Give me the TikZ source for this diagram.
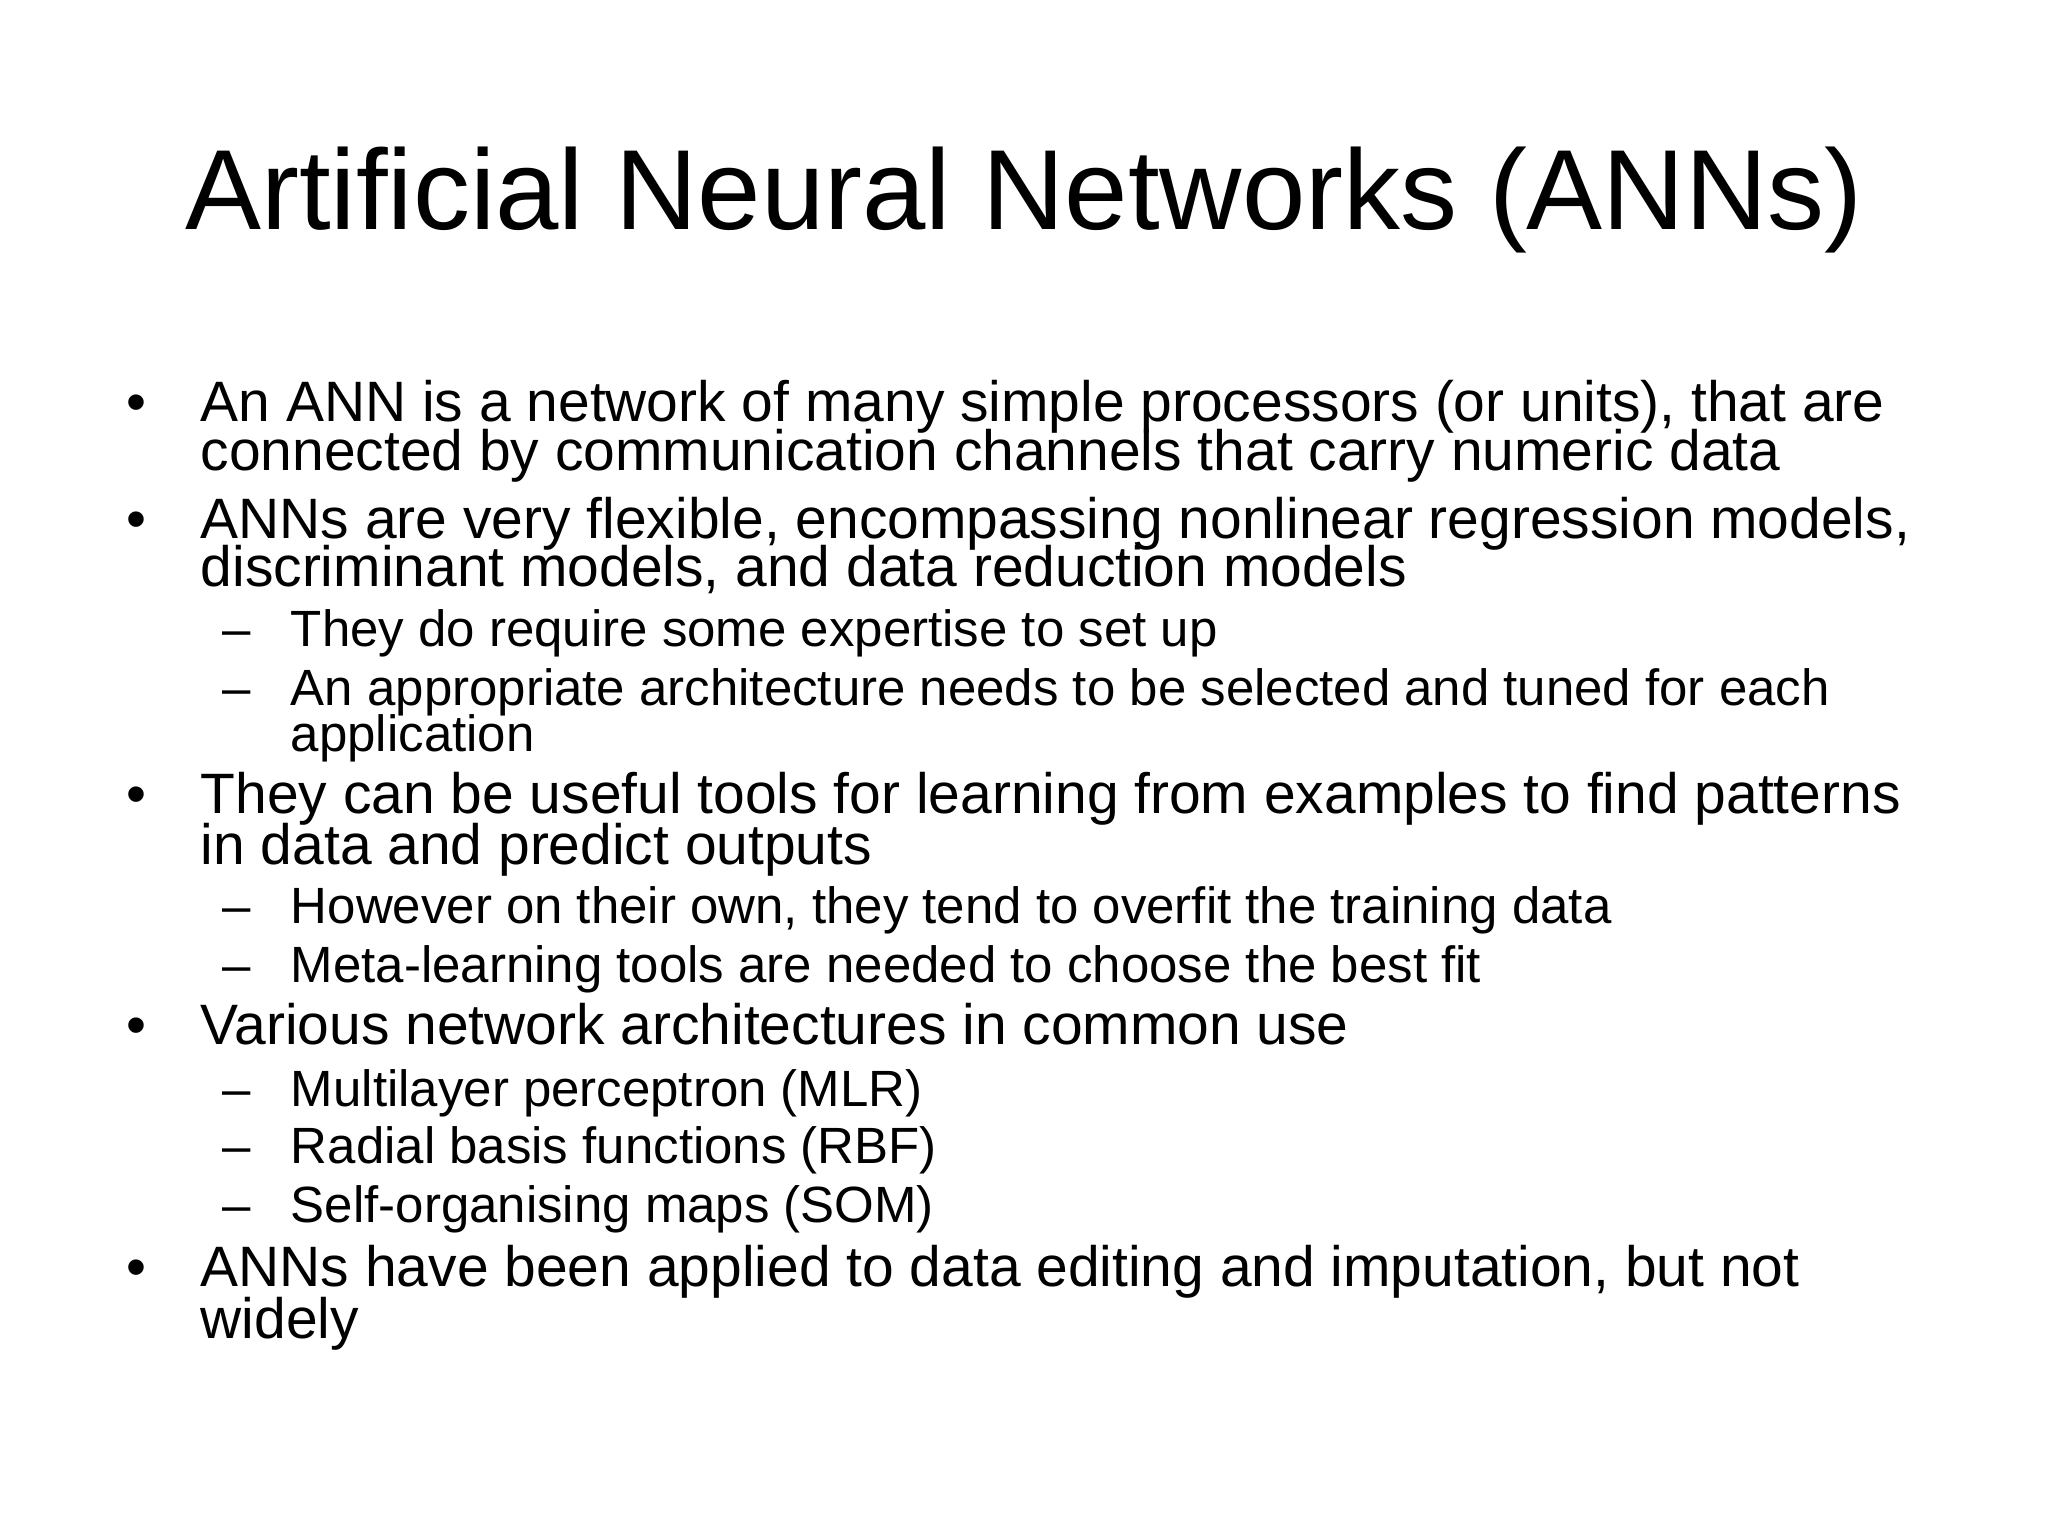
\documentclass[tikz,border=0pt]{standalone}
\usepackage{fontspec}
\setmainfont{Liberation Sans}
\begin{document}
\begin{tikzpicture}[x=0.01cm,y=-0.01cm,
  ttl/.style={anchor=base,font=\fontsize{24.8}{26}\selectfont,inner sep=0},
  big/.style={anchor=base west,font=\fontsize{12.4}{13}\selectfont,inner sep=0},
  small/.style={anchor=base west,font=\fontsize{11.1}{12}\selectfont,inner sep=0}]
\useasboundingbox (0,0) rectangle (1568,1176);
\node[ttl] (title) at (784,176) {Artificial Neural Networks (ANNs)};
% bullets
\foreach \y/\n in {323/b1,412/b2,623/b3,800/b4,985/b5}
  \node[big] (\n) at (96,\y) {•};
\foreach \y/\n in {495/d1,540/d2,707/d3,752/d4,847/d5,891/d6,936/d7}
  \node[small] (\n) at (170,\y) {–};
\node[big] (t1a) at (153,323) {An ANN is a network of many simple processors (or units), that are};
\node[big] (t1b) at (153,360) {connected by communication channels that carry numeric data};
\node[big] (t2a) at (153,412) {ANNs are very flexible, encompassing nonlinear regression models,};
\node[big] (t2b) at (153,449) {discriminant models, and data reduction models};
\node[small] (s1) at (222,495) {They do require some expertise to set up};
\node[small] (s2a) at (222,540) {An appropriate architecture needs to be selected and tuned for each};
\node[small] (s2b) at (222,575) {application};
\node[big] (t3a) at (153,623) {They can be useful tools for learning from examples to find patterns};
\node[big] (t3b) at (153,662) {in data and predict outputs};
\node[small] (s3) at (222,707) {However on their own, they tend to overfit the training data};
\node[small] (s4) at (222,752) {Meta-learning tools are needed to choose the best fit};
\node[big] (t4) at (153,800) {Various network architectures in common use};
\node[small] (s5) at (222,847) {Multilayer perceptron (MLR)};
\node[small] (s6) at (222,891) {Radial basis functions (RBF)};
\node[small] (s7) at (222,936) {Self-organising maps (SOM)};
\node[big] (t5a) at (153,985) {ANNs have been applied to data editing and imputation, but not};
\node[big] (t5b) at (153,1025) {widely};
\end{tikzpicture}
\end{document}
